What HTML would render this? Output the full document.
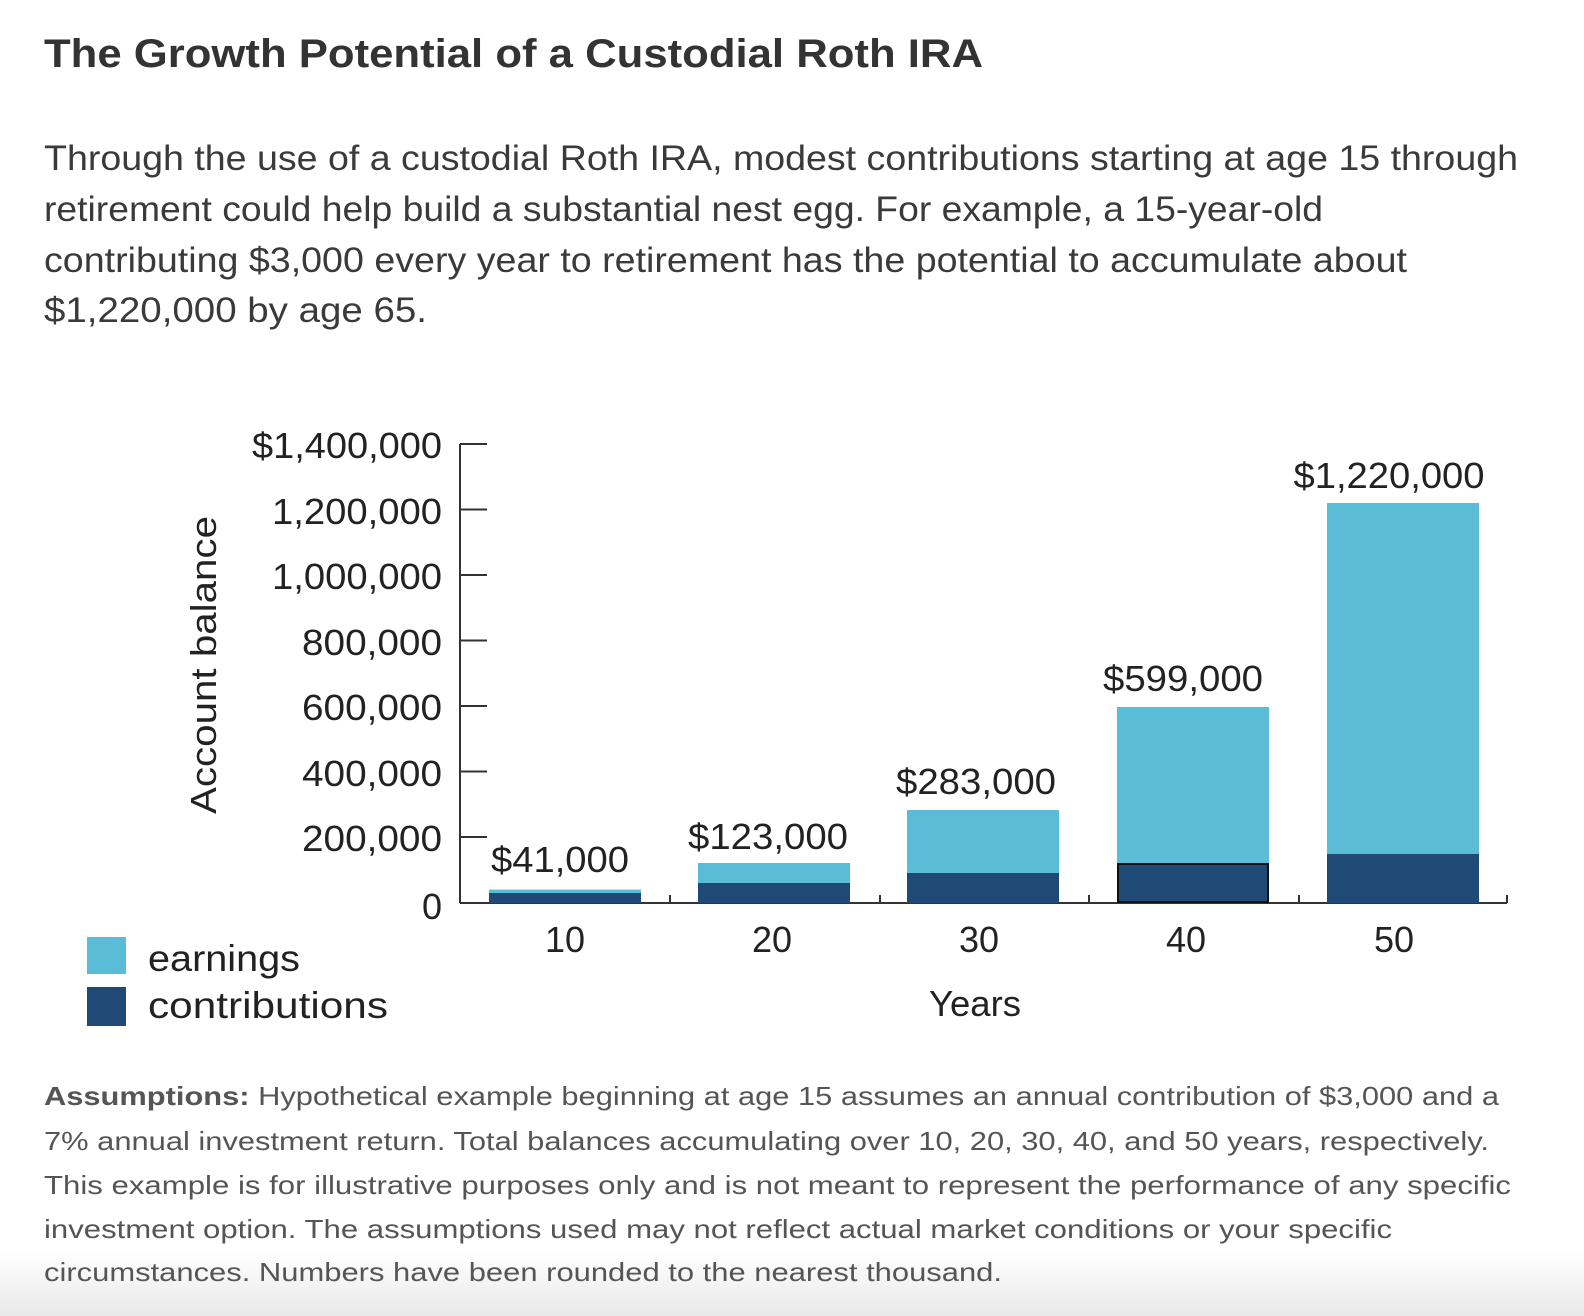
<!DOCTYPE html>
<html><head><meta charset="utf-8"><style>
html,body{margin:0;padding:0;background:#fff;}
svg{display:block;}
.t{font-family:"Liberation Sans",sans-serif;}
</style></head><body>
<svg width="1584" height="1316" viewBox="0 0 1584 1316" xmlns="http://www.w3.org/2000/svg" class="t">
<defs><linearGradient id="g" x1="0" y1="0" x2="0" y2="1"><stop offset="0" stop-color="#fff"/><stop offset="1" stop-color="#e9e9e9"/></linearGradient></defs>
<rect x="0" y="1250" width="1584" height="66" fill="url(#g)"/>
<text x="44" y="67" font-size="40" font-weight="bold" fill="#333" textLength="939" lengthAdjust="spacingAndGlyphs">The Growth Potential of a Custodial Roth IRA</text>
<g font-size="35" fill="#3a3a3a">
<text x="44" y="170" textLength="1474" lengthAdjust="spacingAndGlyphs">Through the use of a custodial Roth IRA, modest contributions starting at age 15 through</text>
<text x="44" y="221" textLength="1279" lengthAdjust="spacingAndGlyphs">retirement could help build a substantial nest egg. For example, a 15-year-old</text>
<text x="44" y="272" textLength="1363" lengthAdjust="spacingAndGlyphs">contributing $3,000 every year to retirement has the potential to accumulate about</text>
<text x="44" y="322" textLength="383" lengthAdjust="spacingAndGlyphs">$1,220,000 by age 65.</text>
</g>
<!-- axis -->
<g stroke="#333" stroke-width="2" fill="none">
<line x1="460" y1="444" x2="460" y2="903"/>
<line x1="460" y1="903" x2="1507" y2="903"/>
<line x1="460" y1="444" x2="487" y2="444"/>
<line x1="460" y1="509.5" x2="487" y2="509.5"/>
<line x1="460" y1="575" x2="487" y2="575"/>
<line x1="460" y1="640.5" x2="487" y2="640.5"/>
<line x1="460" y1="706" x2="487" y2="706"/>
<line x1="460" y1="771.5" x2="487" y2="771.5"/>
<line x1="460" y1="837" x2="487" y2="837"/>
<line x1="670" y1="895" x2="670" y2="903"/>
<line x1="880" y1="895" x2="880" y2="903"/>
<line x1="1089" y1="895" x2="1089" y2="903"/>
<line x1="1299" y1="895" x2="1299" y2="903"/>
<line x1="1507" y1="895" x2="1507" y2="903"/>
</g>
<g font-size="36" fill="#222" text-anchor="end">
<text x="442" y="458" textLength="190" lengthAdjust="spacingAndGlyphs">$1,400,000</text>
<text x="442" y="524" textLength="170" lengthAdjust="spacingAndGlyphs">1,200,000</text>
<text x="442" y="589" textLength="170" lengthAdjust="spacingAndGlyphs">1,000,000</text>
<text x="442" y="655" textLength="140" lengthAdjust="spacingAndGlyphs">800,000</text>
<text x="442" y="720" textLength="140" lengthAdjust="spacingAndGlyphs">600,000</text>
<text x="442" y="786" textLength="140" lengthAdjust="spacingAndGlyphs">400,000</text>
<text x="442" y="851" textLength="140" lengthAdjust="spacingAndGlyphs">200,000</text>
<text x="442" y="919">0</text>
</g>
<text transform="translate(216,665) rotate(-90)" font-size="36" fill="#222" text-anchor="middle" textLength="298" lengthAdjust="spacingAndGlyphs">Account balance</text>
<!-- bars -->
<g fill="#5bbcd8">
<rect x="489" y="889.6" width="152" height="13.4"/>
<rect x="698" y="863" width="152" height="40"/>
<rect x="907" y="810" width="152" height="93"/>
<rect x="1117" y="707" width="152" height="196"/>
<rect x="1327" y="503" width="152" height="400"/>
</g>
<g fill="#1f4a75">
<rect x="489" y="893" width="152" height="10"/>
<rect x="698" y="883" width="152" height="20"/>
<rect x="907" y="873" width="152" height="30"/>
<rect x="1118" y="864" width="150" height="38" stroke="#111" stroke-width="2"/>
<rect x="1327" y="854" width="152" height="49"/>
</g>
<g font-size="36" fill="#222" text-anchor="middle">
<text x="560" y="872" textLength="138" lengthAdjust="spacingAndGlyphs">$41,000</text>
<text x="768" y="849" textLength="160" lengthAdjust="spacingAndGlyphs">$123,000</text>
<text x="976" y="794" textLength="160" lengthAdjust="spacingAndGlyphs">$283,000</text>
<text x="1183" y="691" textLength="160" lengthAdjust="spacingAndGlyphs">$599,000</text>
<text x="1389" y="488" textLength="191" lengthAdjust="spacingAndGlyphs">$1,220,000</text>
<text x="565" y="952">10</text>
<text x="772" y="952">20</text>
<text x="979" y="952">30</text>
<text x="1186" y="952">40</text>
<text x="1394" y="952">50</text>
<text x="975" y="1016" textLength="92" lengthAdjust="spacingAndGlyphs">Years</text>
</g>
<rect x="87" y="937" width="39" height="37" fill="#5bbcd8"/>
<rect x="87" y="987" width="39" height="39" fill="#1f4a75"/>
<g font-size="37" fill="#222">
<text x="148" y="971" textLength="152" lengthAdjust="spacingAndGlyphs">earnings</text>
<text x="148" y="1018" textLength="240" lengthAdjust="spacingAndGlyphs">contributions</text>
</g>
<g font-size="26" fill="#555">
<text x="44" y="1105" textLength="1455" lengthAdjust="spacingAndGlyphs"><tspan font-weight="bold" fill="#555">Assumptions:</tspan> Hypothetical example beginning at age 15 assumes an annual contribution of $3,000 and a</text>
<text x="44" y="1150" textLength="1445" lengthAdjust="spacingAndGlyphs">7% annual investment return. Total balances accumulating over 10, 20, 30, 40, and 50 years, respectively.</text>
<text x="44" y="1194" textLength="1467" lengthAdjust="spacingAndGlyphs">This example is for illustrative purposes only and is not meant to represent the performance of any specific</text>
<text x="44" y="1238" textLength="1348" lengthAdjust="spacingAndGlyphs">investment option. The assumptions used may not reflect actual market conditions or your specific</text>
<text x="44" y="1281" textLength="958" lengthAdjust="spacingAndGlyphs">circumstances. Numbers have been rounded to the nearest thousand.</text>
</g>
</svg>
</body></html>
